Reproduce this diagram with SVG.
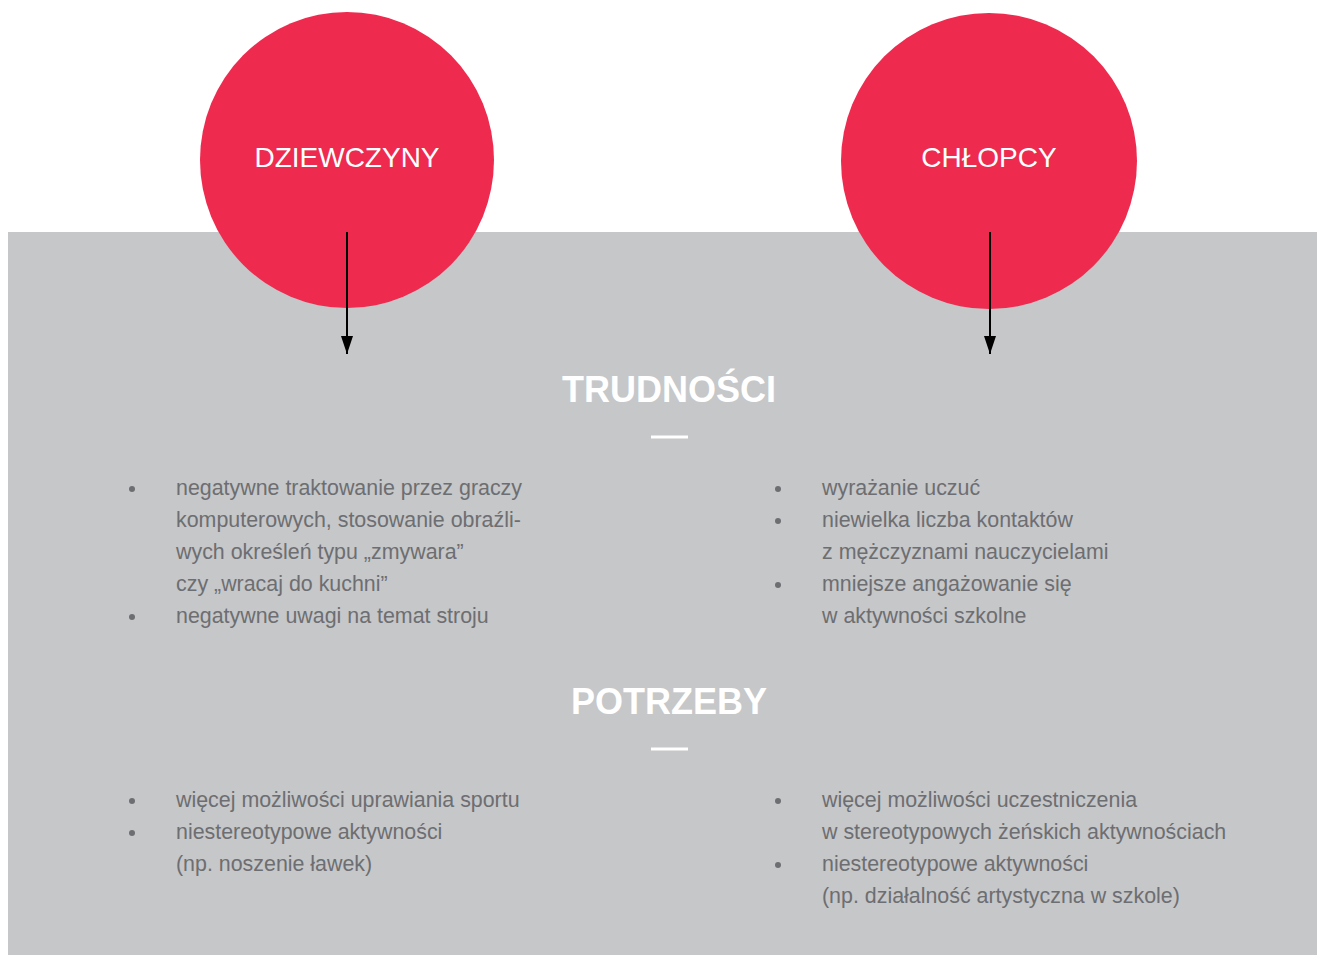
<svg xmlns="http://www.w3.org/2000/svg" width="1317" height="955" viewBox="0 0 1317 955">
<style>
.bg{fill:#c6c7c9}
.circ{fill:#ee2a4f}
.lbl{font-family:"Liberation Sans",Arial,sans-serif;font-size:28px;fill:#fff;text-anchor:middle}
.hd{font-family:"Liberation Sans",Arial,sans-serif;font-size:36px;font-weight:bold;fill:#fff;text-anchor:middle}
.tx{font-family:"Liberation Sans",Arial,sans-serif;font-size:21.4px;fill:#6d6e71}
.dot{fill:#6d6e71}
.dash{stroke:#fff;stroke-width:3}
.conn{stroke:#000;stroke-width:2;fill:none}
</style>
<defs>
<marker id="ah" markerWidth="18" markerHeight="12" refX="18" refY="6" orient="auto" markerUnits="userSpaceOnUse" viewBox="0 0 18 12">
<path d="M0,0 L18,6 L0,12 Z" fill="#000"/>
</marker>
</defs>
<rect class="bg" x="8" y="232" width="1309" height="723"/>
<g id="node-dziewczyny">
<ellipse class="circ" cx="347" cy="160" rx="147" ry="148"/>
<text class="lbl" x="347" y="167">DZIEWCZYNY</text>
</g>
<g id="node-chlopcy">
<ellipse class="circ" cx="989" cy="161" rx="148" ry="148"/>
<text class="lbl" x="989" y="167">CHŁOPCY</text>
</g>
<g id="connectors">
<line class="conn" x1="347" y1="232" x2="347" y2="354" marker-end="url(#ah)"/>
<line class="conn" x1="990" y1="232" x2="990" y2="354" marker-end="url(#ah)"/>
</g>
<g id="trudnosci">
<text class="hd" x="669" y="402">TRUDNOŚCI</text>
<line class="dash" x1="651" y1="437" x2="688" y2="437"/>
</g>
<g id="trudnosci-dziewczyny">
<circle class="dot" cx="132" cy="489" r="3"/>
<circle class="dot" cx="132" cy="617" r="3"/>
<text class="tx" x="176" y="495">negatywne traktowanie przez graczy</text>
<text class="tx" x="176" y="527">komputerowych, stosowanie obraźli-</text>
<text class="tx" x="176" y="559">wych określeń typu „zmywara”</text>
<text class="tx" x="176" y="591">czy „wracaj do kuchni”</text>
<text class="tx" x="176" y="623">negatywne uwagi na temat stroju</text>
</g>
<g id="trudnosci-chlopcy">
<circle class="dot" cx="778" cy="489" r="3"/>
<circle class="dot" cx="778" cy="521" r="3"/>
<circle class="dot" cx="778" cy="585" r="3"/>
<text class="tx" x="822" y="495">wyrażanie uczuć</text>
<text class="tx" x="822" y="527">niewielka liczba kontaktów</text>
<text class="tx" x="822" y="559">z mężczyznami nauczycielami</text>
<text class="tx" x="822" y="591">mniejsze angażowanie się</text>
<text class="tx" x="822" y="623">w aktywności szkolne</text>
</g>
<g id="potrzeby">
<text class="hd" x="669" y="714">POTRZEBY</text>
<line class="dash" x1="651" y1="749" x2="688" y2="749"/>
</g>
<g id="potrzeby-dziewczyny">
<circle class="dot" cx="132" cy="801" r="3"/>
<circle class="dot" cx="132" cy="833" r="3"/>
<text class="tx" x="176" y="807">więcej możliwości uprawiania sportu</text>
<text class="tx" x="176" y="839">niestereotypowe aktywności</text>
<text class="tx" x="176" y="871">(np. noszenie ławek)</text>
</g>
<g id="potrzeby-chlopcy">
<circle class="dot" cx="778" cy="801" r="3"/>
<circle class="dot" cx="778" cy="865" r="3"/>
<text class="tx" x="822" y="807">więcej możliwości uczestniczenia</text>
<text class="tx" x="822" y="839">w stereotypowych żeńskich aktywnościach</text>
<text class="tx" x="822" y="871">niestereotypowe aktywności</text>
<text class="tx" x="822" y="903">(np. działalność artystyczna w szkole)</text>
</g>
</svg>
